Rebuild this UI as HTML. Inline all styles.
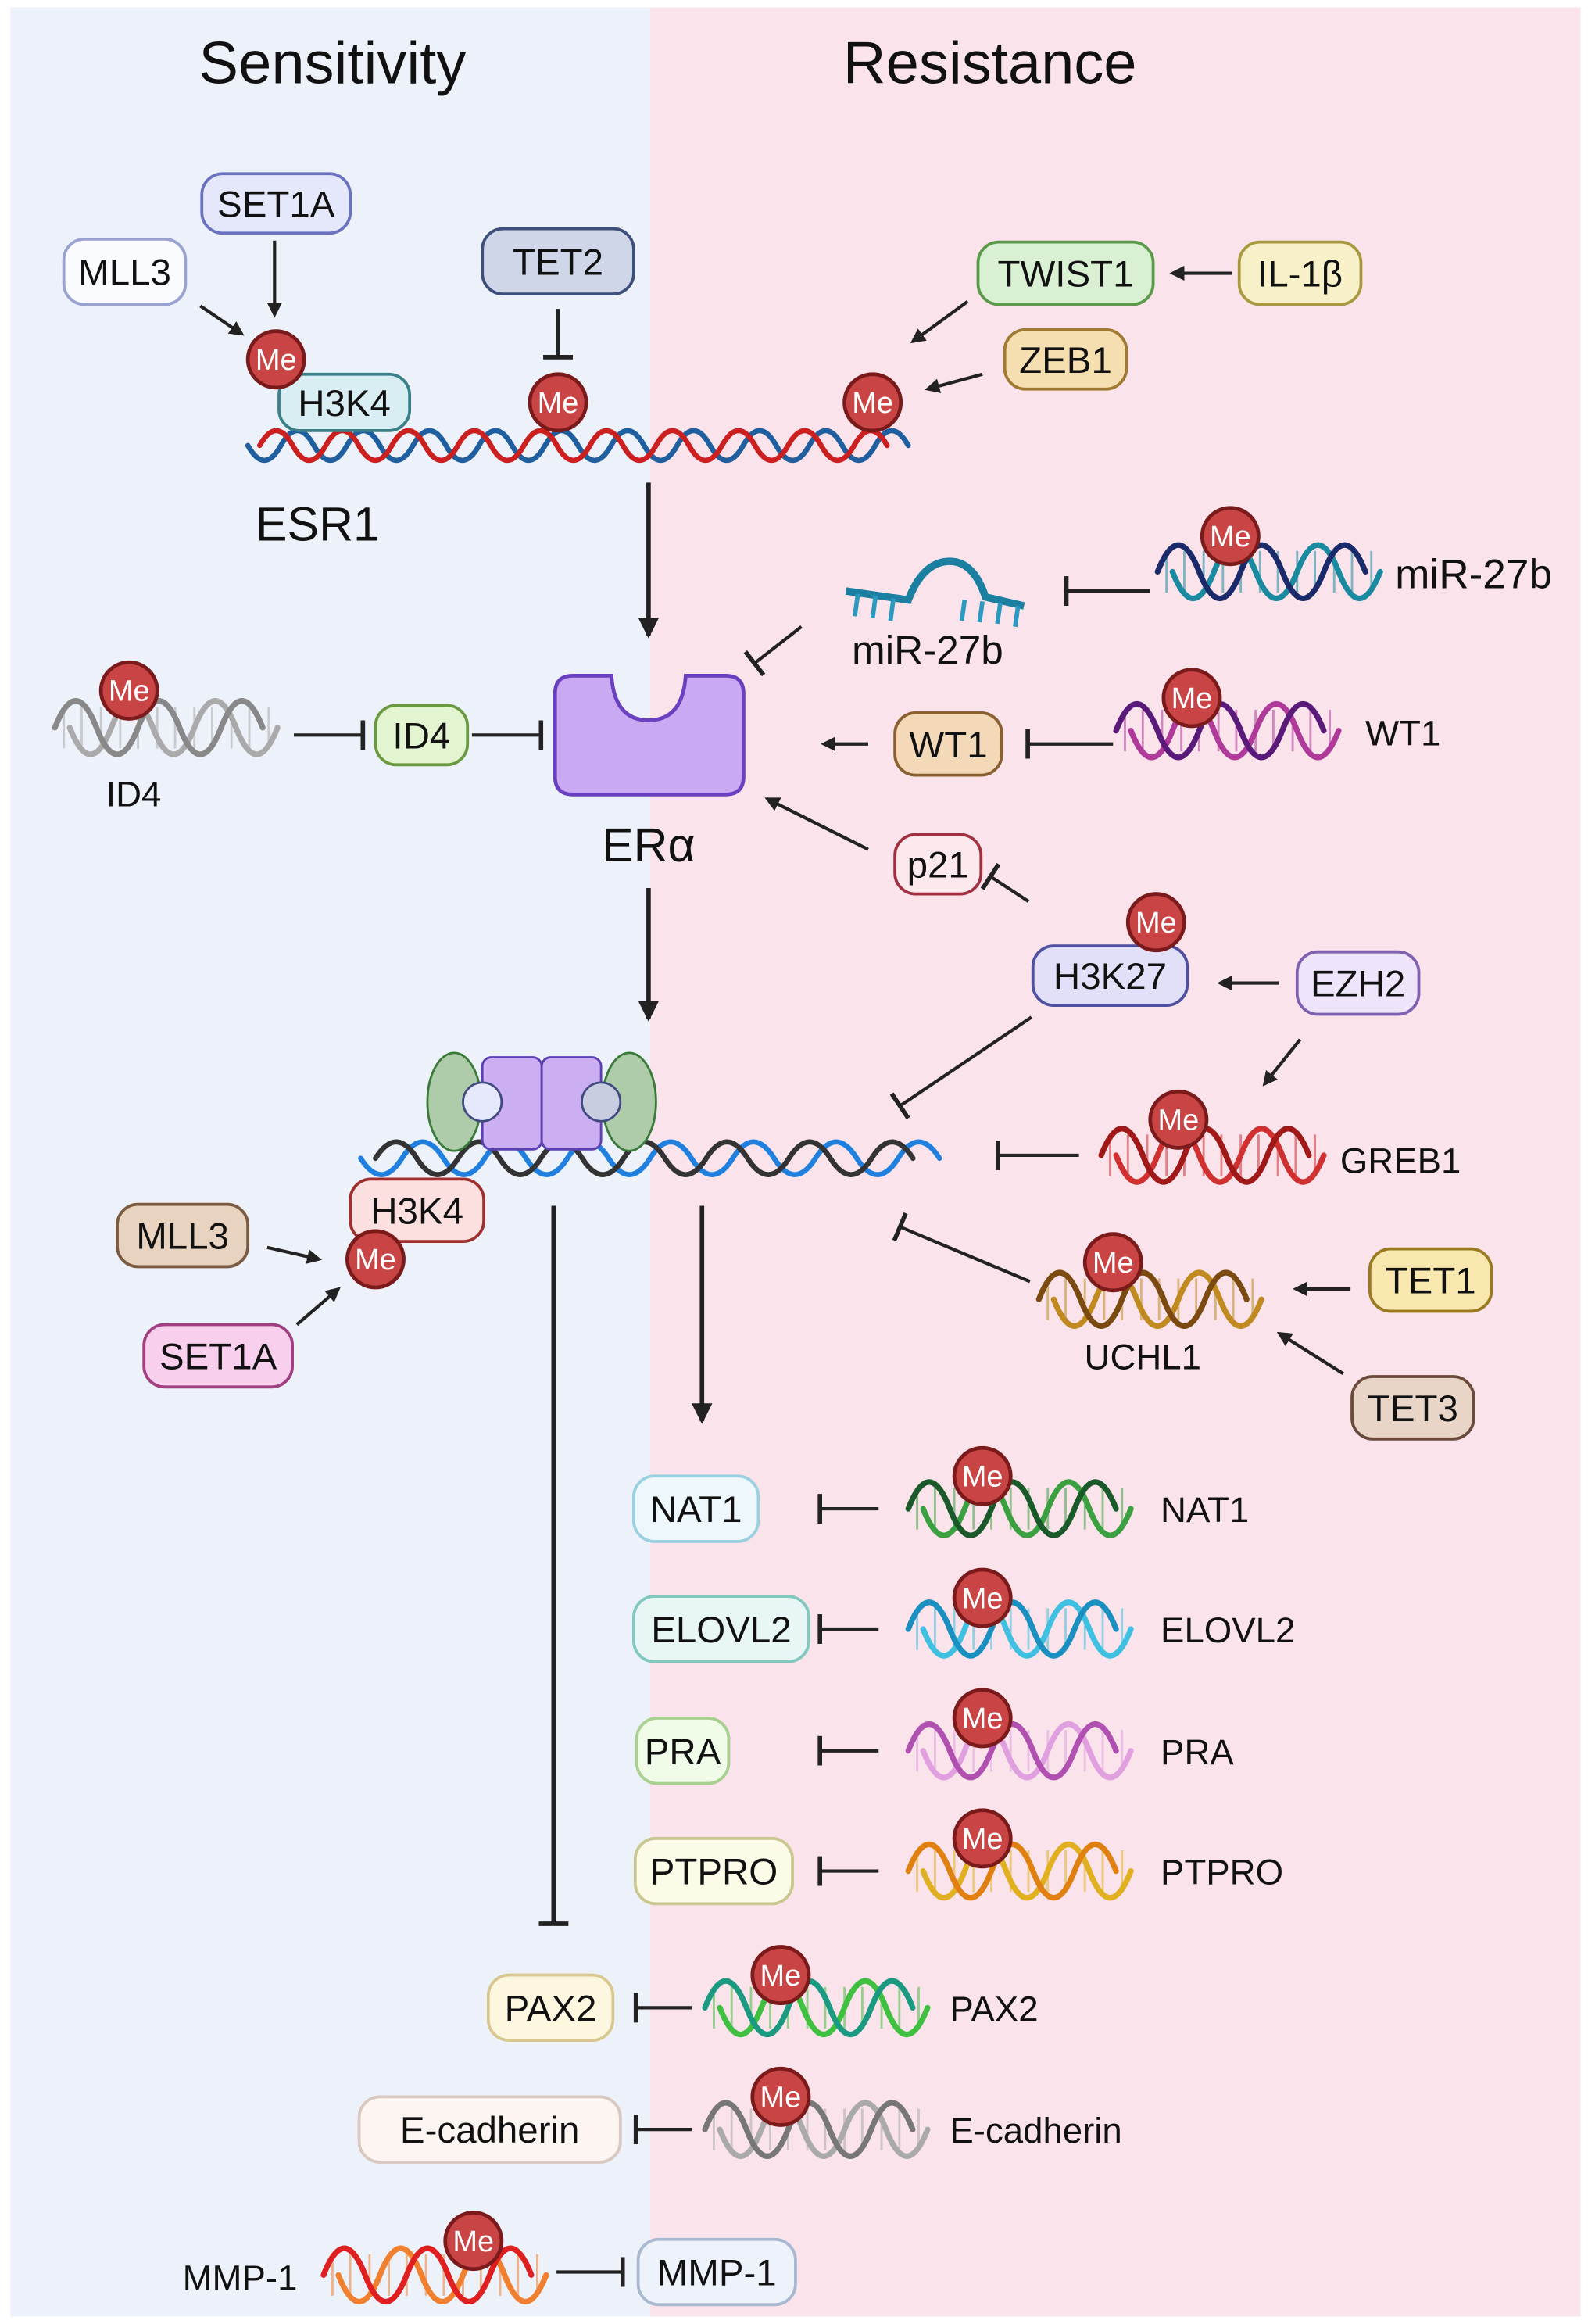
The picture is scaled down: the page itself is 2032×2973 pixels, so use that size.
<!DOCTYPE html>
<html><head><meta charset="utf-8"><style>
html,body{margin:0;padding:0;background:#fff}
svg{display:block}
text{font-family:"Liberation Sans",sans-serif}
.bx rect{stroke-width:2}
.bx text{font-size:25px;text-anchor:middle;fill:#111}
.me circle{fill:#c94545;stroke:#7a1a1a;stroke-width:2.5}
.me text{font-size:20px;text-anchor:middle;fill:#fff}
</style></head><body>
<svg width="2032" height="2973" viewBox="0 0 1070 1565" preserveAspectRatio="none" xmlns="http://www.w3.org/2000/svg" xmlns:xlink="http://www.w3.org/1999/xlink">
<defs>
<marker id="ar" markerWidth="10" markerHeight="10" refX="8" refY="5" orient="auto" markerUnits="userSpaceOnUse"><path d="M0,0 L10,5 L0,10 z" fill="#222"/></marker>
<marker id="arL" markerWidth="14" markerHeight="14" refX="12" refY="7" orient="auto" markerUnits="userSpaceOnUse"><path d="M0,0 L14,7 L0,14 z" fill="#222"/></marker>
<marker id="tb" markerWidth="4" markerHeight="20" refX="2" refY="10" orient="auto" markerUnits="userSpaceOnUse"><rect x="0" y="0" width="3" height="20" fill="#222"/></marker>
<g id="gh">
<path d="M6,-14V14M18,-14V14M31,-14V14M44,-14V14M56,-14V14M69,-14V14M81,-14V14M94,-14V14M106,-14V14M119,-14V14M131,-14V14M144,-14V14" stroke="var(--b)" stroke-width="1.5" opacity="0.55" fill="none"/>
<path d="M10,0 q14,36 28,0 t28,0 t28,0 t28,0 t28,0" fill="none" stroke="var(--b)" stroke-width="3.8" stroke-linecap="round"/>
<path d="M0,0 q14,-36 28,0 t28,0 t28,0 t28,0 t28,0" fill="none" stroke="var(--a)" stroke-width="3.8" stroke-linecap="round"/>
</g>
</defs>
<rect x="0" y="0" width="1070" height="1565" fill="#fff"/>
<rect x="7" y="5" width="431" height="1555" fill="#edf2fa"/>
<rect x="438" y="5" width="627" height="1555" fill="#fae3ea"/>

<g fill="none" stroke-width="3.5" stroke-linecap="round">
<path transform="translate(167,300)" d="M0,0 q11.125,20 22.25,0 t22.25,0 t22.25,0 t22.25,0 t22.25,0 t22.25,0 t22.25,0 t22.25,0 t22.25,0 t22.25,0 t22.25,0 t22.25,0 t22.25,0 t22.25,0 t22.25,0 t22.25,0 t22.25,0 t22.25,0 t22.25,0 t22.25,0" stroke="#1f5fa0"/>
<path transform="translate(175,300)" d="M0,0 q11.125,-20 22.25,0 t22.25,0 t22.25,0 t22.25,0 t22.25,0 t22.25,0 t22.25,0 t22.25,0 t22.25,0 t22.25,0 t22.25,0 t22.25,0 t22.25,0 t22.25,0 t22.25,0 t22.25,0 t22.25,0 t22.25,0 t22.25,0" stroke="#cc2020"/>
<path transform="translate(243,780)" d="M0,0 q13.93,22 27.86,0 t27.86,0 t27.86,0 t27.86,0 t27.86,0 t27.86,0 t27.86,0 t27.86,0 t27.86,0 t27.86,0 t27.86,0 t27.86,0 t27.86,0 t27.86,0" stroke="#2080e0"/>
<path transform="translate(253,780)" d="M0,0 q13.93,-22 27.86,0 t27.86,0 t27.86,0 t27.86,0 t27.86,0 t27.86,0 t27.86,0 t27.86,0 t27.86,0 t27.86,0 t27.86,0 t27.86,0 t27.86,0" stroke="#333"/>
</g>

<use xlink:href="#gh" href="#gh" x="37" y="490" style="--a:#888;--b:#aaa"/>
<use xlink:href="#gh" href="#gh" x="780" y="385" style="--a:#1a2a6a;--b:#1a8aa0"/>
<use xlink:href="#gh" href="#gh" x="752" y="492" style="--a:#5a1a7a;--b:#b03a9a"/>
<use xlink:href="#gh" href="#gh" x="742" y="778" style="--a:#a01818;--b:#d03030"/>
<use xlink:href="#gh" href="#gh" x="700" y="875" style="--a:#7a4a10;--b:#c08a20"/>
<use xlink:href="#gh" href="#gh" x="612" y="1016" style="--a:#1a5a2a;--b:#3aa040"/>
<use xlink:href="#gh" href="#gh" x="612" y="1097" style="--a:#1a90c0;--b:#40c0e0"/>
<use xlink:href="#gh" href="#gh" x="612" y="1179" style="--a:#b050b0;--b:#e0a0e0"/>
<use xlink:href="#gh" href="#gh" x="612" y="1260" style="--a:#e08010;--b:#e0b020"/>
<use xlink:href="#gh" href="#gh" x="475" y="1352" style="--a:#1a9a80;--b:#40c040"/>
<use xlink:href="#gh" href="#gh" x="475" y="1434" style="--a:#777;--b:#aaa"/>
<use xlink:href="#gh" href="#gh" x="218" y="1532" style="--a:#e02020;--b:#f08030"/>

<text x="224" y="56" font-size="40" text-anchor="middle" fill="#111">Sensitivity</text>
<text x="667" y="56" font-size="40" text-anchor="middle" fill="#111">Resistance</text>

<g stroke="#222" stroke-width="2.2" fill="none">
<line x1="185" y1="162" x2="185" y2="212" marker-end="url(#ar)"/>
<line x1="135" y1="206" x2="163" y2="225" marker-end="url(#ar)"/>
<line x1="376" y1="208" x2="376" y2="241" marker-end="url(#tb)"/>
<line x1="437" y1="325" x2="437" y2="428" stroke-width="3" marker-end="url(#arL)"/>
<line x1="830" y1="184" x2="790" y2="184" marker-end="url(#ar)"/>
<line x1="652" y1="203" x2="615" y2="230" marker-end="url(#ar)"/>
<line x1="662" y1="252" x2="625" y2="262" marker-end="url(#ar)"/>
<line x1="775" y1="398" x2="718" y2="398" marker-end="url(#tb)"/>
<line x1="540" y1="422" x2="508" y2="447" marker-end="url(#tb)"/>
<line x1="198" y1="495" x2="245" y2="495" marker-end="url(#tb)"/>
<line x1="318" y1="495" x2="365" y2="495" marker-end="url(#tb)"/>
<line x1="585" y1="501" x2="555" y2="501" marker-end="url(#ar)"/>
<line x1="750" y1="501" x2="692" y2="501" marker-end="url(#tb)"/>
<line x1="585" y1="572" x2="517" y2="538" marker-end="url(#ar)"/>
<line x1="693" y1="607" x2="667" y2="590" marker-end="url(#tb)"/>
<line x1="862" y1="662" x2="822" y2="662" marker-end="url(#ar)"/>
<line x1="876" y1="700" x2="852" y2="730" marker-end="url(#ar)"/>
<line x1="437" y1="598" x2="437" y2="686" stroke-width="3" marker-end="url(#arL)"/>
<line x1="695" y1="685" x2="606" y2="745" marker-end="url(#tb)"/>
<line x1="727" y1="778" x2="672" y2="778" marker-end="url(#tb)"/>
<line x1="694" y1="863" x2="606" y2="826" marker-end="url(#tb)"/>
<line x1="910" y1="868" x2="873" y2="868" marker-end="url(#ar)"/>
<line x1="905" y1="925" x2="862" y2="898" marker-end="url(#ar)"/>
<line x1="180" y1="840" x2="215" y2="848" marker-end="url(#ar)"/>
<line x1="200" y1="892" x2="228" y2="868" marker-end="url(#ar)"/>
<line x1="373" y1="812" x2="373" y2="1296" stroke-width="3" marker-end="url(#tb)"/>
<line x1="473" y1="812" x2="473" y2="957" stroke-width="3" marker-end="url(#arL)"/>
<line x1="592" y1="1016" x2="552" y2="1016" marker-end="url(#tb)"/>
<line x1="592" y1="1097" x2="552" y2="1097" marker-end="url(#tb)"/>
<line x1="592" y1="1179" x2="552" y2="1179" marker-end="url(#tb)"/>
<line x1="592" y1="1260" x2="552" y2="1260" marker-end="url(#tb)"/>
<line x1="466" y1="1352" x2="428" y2="1352" marker-end="url(#tb)"/>
<line x1="466" y1="1434" x2="428" y2="1434" marker-end="url(#tb)"/>
<line x1="375" y1="1530" x2="420" y2="1530" marker-end="url(#tb)"/>
</g>

<path d="M386,455 L412,455 Q414,485 437,485 Q460,485 462,455 L489,455 Q501,455 501,467 L501,523 Q501,535 489,535 L386,535 Q374,535 374,523 L374,467 Q374,455 386,455 z" fill="#c9a9f2" stroke="#6a40c0" stroke-width="2.5"/>
<text x="437" y="580" font-size="32" text-anchor="middle" fill="#111">ERα</text>

<g stroke="#1a7fa0" fill="none">
<path d="M570,398 L612,404 Q622,378 640,378 Q656,378 664,402 L690,408" stroke-width="5"/>
<g stroke-width="3" stroke="#2a9ac0"><line x1="578" y1="400" x2="576" y2="415"/><line x1="590" y1="401" x2="588" y2="416"/><line x1="602" y1="403" x2="600" y2="418"/><line x1="650" y1="404" x2="648" y2="418"/><line x1="662" y1="405" x2="660" y2="419"/><line x1="674" y1="406" x2="672" y2="420"/><line x1="686" y1="408" x2="684" y2="422"/></g>
</g>
<text x="625" y="447" font-size="27" text-anchor="middle" fill="#111">miR-27b</text>

<ellipse cx="306" cy="742" rx="18" ry="33" fill="#afccaa" stroke="#3a7a3a" stroke-width="1.5"/>
<ellipse cx="424" cy="742" rx="18" ry="33" fill="#afccaa" stroke="#3a7a3a" stroke-width="1.5"/>
<rect x="325" y="712" width="40" height="62" rx="6" fill="#ccaef2" stroke="#5a40b0" stroke-width="1.5"/>
<rect x="365" y="712" width="40" height="62" rx="6" fill="#ccaef2" stroke="#5a40b0" stroke-width="1.5"/>
<circle cx="325" cy="742" r="13" fill="#e6e8fb" stroke="#404a80" stroke-width="1.5"/>
<circle cx="405" cy="742" r="13" fill="#c8cde0" stroke="#404a80" stroke-width="1.5"/>

<g font-size="24" fill="#111">
<text x="214" y="364" font-size="32" text-anchor="middle">ESR1</text>
<text x="90" y="543" text-anchor="middle">ID4</text>
<text x="940" y="396" font-size="28">miR-27b</text>
<text x="920" y="502">WT1</text>
<text x="903" y="790">GREB1</text>
<text x="770" y="922" text-anchor="middle">UCHL1</text>
<text x="782" y="1025">NAT1</text>
<text x="782" y="1106">ELOVL2</text>
<text x="782" y="1188">PRA</text>
<text x="782" y="1269">PTPRO</text>
<text x="640" y="1361">PAX2</text>
<text x="640" y="1443">E-cadherin</text>
<text x="123" y="1542">MMP-1</text>
</g>

<g class="bx">
<rect x="136" y="117" width="100" height="40" rx="14" fill="#e5e8fb" stroke="#6a72c0"/><text x="186" y="146">SET1A</text>
<rect x="43" y="161" width="82" height="44" rx="14" fill="#fafbff" stroke="#9aa3d0"/><text x="84" y="192">MLL3</text>
<rect x="325" y="154" width="102" height="44" rx="14" fill="#cfd6e8" stroke="#3d4f7a"/><text x="376" y="185">TET2</text>
<rect x="188" y="252" width="88" height="38" rx="14" fill="#d9eef2" stroke="#3a8088"/><text x="232" y="280">H3K4</text>
<rect x="659" y="163" width="118" height="42" rx="14" fill="#d9f0d3" stroke="#5a9a4a"/><text x="718" y="193">TWIST1</text>
<rect x="835" y="163" width="82" height="42" rx="14" fill="#f8f0c8" stroke="#a89a40"/><text x="876" y="193">IL-1β</text>
<rect x="677" y="222" width="82" height="40" rx="14" fill="#f5dfb0" stroke="#a07a30"/><text x="718" y="251">ZEB1</text>
<rect x="253" y="475" width="62" height="40" rx="14" fill="#e2f5d0" stroke="#6a9a40"/><text x="284" y="504">ID4</text>
<rect x="603" y="480" width="72" height="42" rx="14" fill="#f3d9b8" stroke="#8a6030"/><text x="639" y="510">WT1</text>
<rect x="603" y="562" width="58" height="40" rx="14" fill="#fbe9ee" stroke="#a03040"/><text x="632" y="591">p21</text>
<rect x="696" y="637" width="104" height="40" rx="14" fill="#e1e0f8" stroke="#5050a0"/><text x="748" y="666">H3K27</text>
<rect x="874" y="641" width="82" height="42" rx="14" fill="#efe5fb" stroke="#8060b0"/><text x="915" y="671">EZH2</text>
<rect x="923" y="841" width="82" height="42" rx="14" fill="#f8e8b0" stroke="#9a7a20"/><text x="964" y="871">TET1</text>
<rect x="911" y="927" width="82" height="42" rx="14" fill="#e8d5c8" stroke="#6a4a3a"/><text x="952" y="957">TET3</text>
<rect x="236" y="794" width="90" height="42" rx="14" fill="#fce0e0" stroke="#a03030"/><text x="281" y="824">H3K4</text>
<rect x="79" y="811" width="88" height="42" rx="14" fill="#e8d3c0" stroke="#7a5a40"/><text x="123" y="841">MLL3</text>
<rect x="97" y="892" width="100" height="42" rx="14" fill="#f8d0ee" stroke="#a04080"/><text x="147" y="922">SET1A</text>
<rect x="427" y="994" width="84" height="44" rx="14" fill="#eef7fb" stroke="#9ad0e0"/><text x="469" y="1025">NAT1</text>
<rect x="427" y="1075" width="118" height="44" rx="14" fill="#e8f6f6" stroke="#80c8c0"/><text x="486" y="1106">ELOVL2</text>
<rect x="429" y="1157" width="62" height="44" rx="14" fill="#f0fbe8" stroke="#a8d090"/><text x="460" y="1188">PRA</text>
<rect x="428" y="1238" width="106" height="44" rx="14" fill="#fbfbe8" stroke="#c8c890"/><text x="481" y="1269">PTPRO</text>
<rect x="329" y="1330" width="84" height="44" rx="14" fill="#fdf7e0" stroke="#d8c890"/><text x="371" y="1361">PAX2</text>
<rect x="242" y="1412" width="176" height="44" rx="14" fill="#fdf5f2" stroke="#d8c8c0"/><text x="330" y="1443">E-cadherin</text>
<rect x="430" y="1508" width="106" height="44" rx="14" fill="#eef3fb" stroke="#a8b8d0"/><text x="483" y="1539">MMP-1</text>
</g>

<g class="me">
<circle cx="186" cy="242" r="19"/><text x="186" y="249">Me</text>
<circle cx="376" cy="271" r="19"/><text x="376" y="278">Me</text>
<circle cx="588" cy="271" r="19"/><text x="588" y="278">Me</text>
<circle cx="87" cy="465" r="19"/><text x="87" y="472">Me</text>
<circle cx="829" cy="361" r="19"/><text x="829" y="368">Me</text>
<circle cx="803" cy="470" r="19"/><text x="803" y="477">Me</text>
<circle cx="779" cy="621" r="19"/><text x="779" y="628">Me</text>
<circle cx="794" cy="754" r="19"/><text x="794" y="761">Me</text>
<circle cx="750" cy="850" r="19"/><text x="750" y="857">Me</text>
<circle cx="253" cy="848" r="19"/><text x="253" y="855">Me</text>
<circle cx="662" cy="994" r="19"/><text x="662" y="1001">Me</text>
<circle cx="662" cy="1076" r="19"/><text x="662" y="1083">Me</text>
<circle cx="662" cy="1157" r="19"/><text x="662" y="1164">Me</text>
<circle cx="662" cy="1238" r="19"/><text x="662" y="1245">Me</text>
<circle cx="526" cy="1330" r="19"/><text x="526" y="1337">Me</text>
<circle cx="526" cy="1412" r="19"/><text x="526" y="1419">Me</text>
<circle cx="319" cy="1509" r="19"/><text x="319" y="1516">Me</text>
</g>
</svg>
</body></html>
